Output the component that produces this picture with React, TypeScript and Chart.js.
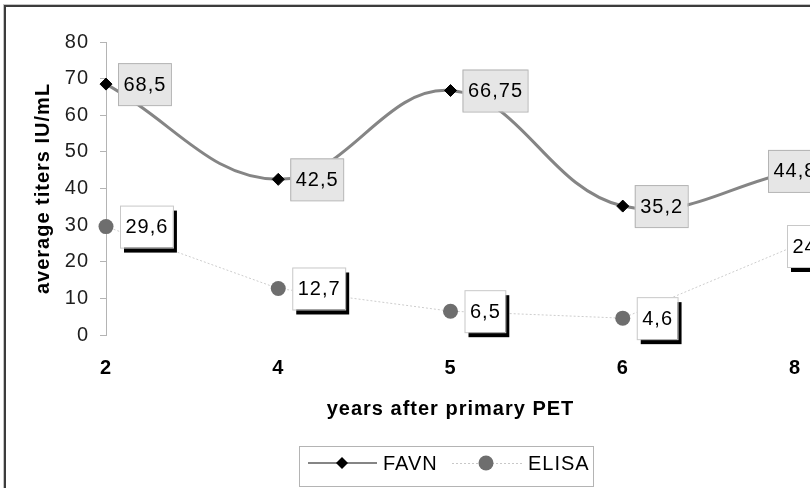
import { useEffect, useRef } from "react";
import { Chart, registerables } from "chart.js";

Chart.register(...registerables);

const years = ["2", "4", "5", "6", "8"];
const favnValues = [68.5, 42.5, 66.75, 35.2, 44.8];
const elisaValues = [29.6, 12.7, 6.5, 4.6, 24.3];
const yTicks = [0, 10, 20, 30, 40, 50, 60, 70, 80];

const FONT = "'Liberation Sans', Arial, sans-serif";

function fmt(v: number) {
  return String(v).replace(".", ",");
}

const spacingPlugin = {
  id: "spacing",
  beforeUpdate(chart: any) {
    chart.ctx.letterSpacing = "1px";
  },
  beforeLayout(chart: any) {
    chart.ctx.letterSpacing = "1px";
  },
  beforeDraw(chart: any) {
    chart.ctx.letterSpacing = "1px";
  },
};

// value boxes next to each point, like the old spreadsheet labels
const labelsPlugin = {
  id: "valueBoxes",
  afterDatasetsDraw(chart: any) {
    const ctx = chart.ctx;
    ctx.save();
    ctx.font = `20px ${FONT}`;
    ctx.textBaseline = "middle";
    ctx.textAlign = "center";
    chart.data.datasets.forEach((ds: any, di: number) => {
      const meta = chart.getDatasetMeta(di);
      meta.data.forEach((pt: any, i: number) => {
        const text = fmt(ds.data[i]);
        const w = ctx.measureText(text).width + 10;
        const h = 42;
        const last = i === ds.data.length - 1;
        let x: number;
        if (di === 0) x = last ? pt.x - 27 : pt.x + 12;
        else x = last ? pt.x - 8 : pt.x + 14;
        const y = pt.y - h / 2;
        if (di === 0) {
          ctx.fillStyle = "#e6e6e6";
          ctx.fillRect(x, y, w, h);
          ctx.strokeStyle = "#b4b4b4";
          ctx.lineWidth = 1;
          ctx.strokeRect(x + 0.5, y + 0.5, w, h);
        } else {
          ctx.fillStyle = "#000";
          ctx.fillRect(x + 4, y + 5, w, h);
          ctx.fillStyle = "#fff";
          ctx.fillRect(x, y, w, h);
          ctx.strokeStyle = "#c8c8c8";
          ctx.lineWidth = 1;
          ctx.strokeRect(x + 0.5, y + 0.5, w, h);
        }
        ctx.fillStyle = "#000";
        ctx.fillText(text, x + w / 2 + 0.5, y + h / 2 + 1);
      });
    });
    ctx.restore();
  },
  afterDraw(chart: any) {
    // legend box at the bottom
    const ctx = chart.ctx;
    ctx.save();
    const bx = 293, by = 439, bw = 294, bh = 40;
    ctx.fillStyle = "#fff";
    ctx.fillRect(bx, by, bw, bh);
    ctx.strokeStyle = "#b4b4b4";
    ctx.lineWidth = 1;
    ctx.strokeRect(bx + 0.5, by + 0.5, bw, bh);
    const cy = 456;
    // FAVN sample
    ctx.strokeStyle = "#858585";
    ctx.lineWidth = 2;
    ctx.beginPath();
    ctx.moveTo(302, cy);
    ctx.lineTo(371, cy);
    ctx.stroke();
    ctx.fillStyle = "#000";
    ctx.beginPath();
    ctx.moveTo(336, cy - 6);
    ctx.lineTo(342, cy);
    ctx.lineTo(336, cy + 6);
    ctx.lineTo(330, cy);
    ctx.closePath();
    ctx.fill();
    // ELISA sample
    ctx.strokeStyle = "#c8c8c8";
    ctx.lineWidth = 1;
    ctx.setLineDash([2, 2]);
    ctx.beginPath();
    ctx.moveTo(446, cy + 0.5);
    ctx.lineTo(516, cy + 0.5);
    ctx.stroke();
    ctx.setLineDash([]);
    ctx.fillStyle = "#6e6e6e";
    ctx.beginPath();
    ctx.arc(480, cy, 7.5, 0, Math.PI * 2);
    ctx.fill();
    ctx.fillStyle = "#000";
    ctx.font = `20px ${FONT}`;
    ctx.textBaseline = "middle";
    ctx.textAlign = "left";
    ctx.fillText("FAVN", 377, cy + 1);
    ctx.fillText("ELISA", 522, cy + 1);
    ctx.restore();
  },
};

function TitersChart() {
  const chartRef = useRef<HTMLCanvasElement | null>(null);
  const chartInstance = useRef<Chart | null>(null);

  useEffect(() => {
    if (!chartRef.current) return;
    const ctx = chartRef.current.getContext("2d");
    if (!ctx) return;

    if (chartInstance.current) {
      chartInstance.current.destroy();
    }

    chartInstance.current = new Chart(ctx, {
      type: "line",
      data: {
        labels: years,
        datasets: [
          {
            label: "FAVN",
            data: favnValues,
            borderColor: "#858585",
            borderWidth: 3,
            tension: 0.4,
            pointStyle: "rectRot",
            pointRadius: 6,
            pointBackgroundColor: "#000",
            pointBorderColor: "#000",
            pointBorderWidth: 1,
            clip: false,
          },
          {
            label: "ELISA",
            data: elisaValues,
            borderColor: "#cdcdcd",
            borderWidth: 1,
            borderDash: [2, 2],
            tension: 0,
            pointStyle: "circle",
            pointRadius: 7.5,
            pointBackgroundColor: "#6e6e6e",
            pointBorderColor: "#6e6e6e",
            pointBorderWidth: 0,
            clip: false,
          },
        ],
      },
      options: {
        animation: false,
        responsive: true,
        maintainAspectRatio: false,
        layout: { padding: { left: 0, top: 35, right: 91, bottom: 0 } },
        plugins: {
          legend: { display: false },
          tooltip: { enabled: false },
        },
        scales: {
          x: {
            offset: false,
            grid: { display: false, drawTicks: false, tickLength: 0 },
            border: { display: false },
            ticks: {
              color: "#000",
              padding: 21,
              font: { family: FONT, size: 20, weight: "bold" },
              maxRotation: 0,
            },
            title: {
              display: true,
              text: "years after primary PET",
              color: "#000",
              font: { family: FONT, size: 20, weight: "bold" },
              padding: { top: 0, bottom: 67 },
            },
            afterFit(scale: any) {
              scale.height = 153;
            },
          },
          y: {
            min: 0,
            max: 80,
            afterBuildTicks(scale: any) {
              scale.ticks = yTicks.map((v) => ({ value: v }));
            },
            grid: {
              display: true,
              drawOnChartArea: false,
              drawTicks: true,
              tickLength: 6,
              color: "#b4b4b4",
            },
            border: { display: true, color: "#b4b4b4", width: 1 },
            ticks: {
              color: "#1e1e1e",
              padding: 11,
              font: { family: FONT, size: 20 },
            },
            title: {
              display: true,
              text: "average titers IU/mL",
              color: "#000",
              font: { family: FONT, size: 20, weight: "bold" },
              padding: { top: 25, bottom: 0 },
            },
            afterFit(scale: any) {
              scale.width = 100;
            },
          },
        },
      },
      plugins: [spacingPlugin, labelsPlugin],
    } as any);

    return () => {
      if (chartInstance.current) {
        chartInstance.current.destroy();
        chartInstance.current = null;
      }
    };
  }, []);

  return <canvas ref={chartRef} />;
}

export default function App() {
  return (
    <div
      style={{
        position: "fixed",
        left: 0,
        top: 0,
        width: 810,
        height: 488,
        overflow: "hidden",
        background: "#fff",
      }}
    >
      <div
        style={{
          position: "absolute",
          left: 4,
          top: 5,
          width: 900,
          height: 500,
          borderLeft: "2px solid #3c3c3c",
          borderTop: "2px solid #3c3c3c",
          boxShadow: "-1px -1px 0 #c4c4c4",
        }}
      >
        <div style={{ position: "absolute", left: 0, top: 0, width: 880, height: 481 }}>
          <TitersChart />
        </div>
      </div>
    </div>
  );
}
